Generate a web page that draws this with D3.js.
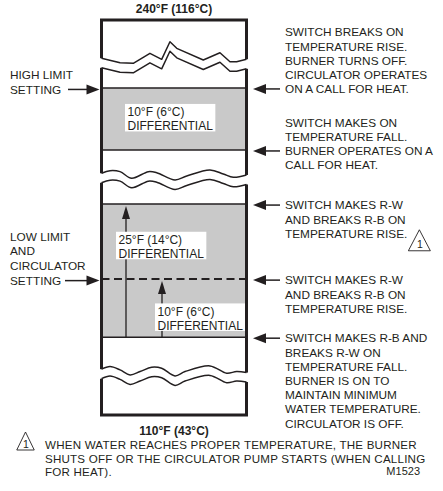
<!DOCTYPE html>
<html>
<head>
<meta charset="utf-8">
<script src="https://cdn.jsdelivr.net/npm/d3@7"></script>
<style>
  html, body { margin: 0; padding: 0; background: #fff; }
  svg { display: block; }
  .note { font-family: "Liberation Sans", Arial, sans-serif; font-size: 11.8px; fill: #231f20; }
  .diff { font-family: "Liberation Sans", Arial, sans-serif; font-size: 12px; fill: #231f20; }
  .temp { font-family: "Liberation Sans", Arial, sans-serif; font-size: 12px; font-weight: bold; fill: #231f20; }
</style>
</head>
<body>
<svg id="chart" width="443" height="491"></svg>
<script>
"use strict";


//
// Data
//

var extremeLabels = ["240°F (116°C)", "110°F (43°C)"];

// switch levels, in units of box height (0 = 110°F end, 100 = 240°F end)
var levelNames = ["high", "make", "rise", "low", "fall"];
var levelUnits = [82.8, 67.1, 53.4, 34.4, 19.7];

var grayBands = [["high", "make"], ["rise", "fall"]];

var settingLabels = [
    ["HIGH LIMIT", "SETTING"],
    ["LOW LIMIT", "AND", "CIRCULATOR", "SETTING"]
];
var settingLevels = ["high", "low"];

var noteLines = [
    ["SWITCH BREAKS ON", "TEMPERATURE RISE.", "BURNER TURNS OFF.", "CIRCULATOR OPERATES", "ON A CALL FOR HEAT."],
    ["SWITCH MAKES ON", "TEMPERATURE FALL.", "BURNER OPERATES ON A", "CALL FOR HEAT."],
    ["SWITCH MAKES R-W", "AND BREAKS R-B ON", "TEMPERATURE RISE."],
    ["SWITCH MAKES R-W", "AND BREAKS R-B ON", "TEMPERATURE RISE."],
    ["SWITCH MAKES R-B AND", "BREAKS R-W ON", "TEMPERATURE FALL.", "BURNER IS ON TO", "MAINTAIN MINIMUM", "WATER TEMPERATURE.", "CIRCULATOR IS OFF."]
];
var noteLevels = ["high", "make", "rise", "low", "fall"];
var noteAnchorLine = [4, 2, 0, 0, 0];
var noteFlag = [null, null, "1", null, null];

var differentialLabels = [
    ["10°F (6°C)", "DIFFERENTIAL"],
    ["25°F (14°C)", "DIFFERENTIAL"],
    ["10°F  (6°C)", "DIFFERENTIAL"]
];
var differentialSpans = [["high", "make"], ["rise", "fall"], ["low", "fall"]];
var differentialArrow = [false, true, true];

var footnoteFlag = "1";
var footnoteLines = [
    "WHEN WATER REACHES PROPER TEMPERATURE, THE BURNER",
    "SHUTS OFF OR THE CIRCULATOR PUMP STARTS (WHEN CALLING",
    "FOR HEAT)."
];
var figureId = "M1523";

// break lines: level (units) and profile [x fraction, dy px]
var breakUnits = [90.3, 61.2, 11.6];
var breakProfiles = [
    [[0, 0], [0.128, 4.4], [0.219, 5], [0.334, -5], [0.415, 1], [0.472, -16.6], [0.519, -10], [0.702, 1.7], [0.817, -5.6], [0.886, 3.4], [0.932, 3.4], [1, 1]],
    [[0, 0], [0.059, -2.6], [0.128, -1.6], [0.208, 5], [0.323, -1.6], [0.381, -0.6], [0.507, 6.7], [0.588, 2.7], [0.748, -3.3], [0.84, 0.7], [0.909, 4], [1, 1.7]],
    [[0, 0], [0.059, -2.6], [0.128, 0.7], [0.197, 5.7], [0.266, 2.4], [0.346, -2], [0.415, -1], [0.507, 6.7], [0.576, 2.4], [0.748, -3.3], [0.863, 4], [0.932, 2.4], [1, 3.4]]
];


//
// Layout
//

var ink = "#231f20",
    grayFill = "#c9c9c9",
    boxLeft = 101.5,
    boxRight = 246.5,
    boxTop = 20,
    boxBottom = 415,
    breakGap = 9.5,
    noteX = 285,
    noteArrowTip = 253,
    noteArrowTail = 280,
    noteLeading = 14.2,
    settingX = 10,
    settingLeading = 14.8,
    settingArrowTails = [68, 65],
    diffBoxOffsets = [[23.5, 16], [14.5, 27.7], [53.5, 24.3]],
    diffArrowOffsets = [null, 24.5, 60.5];

var svg = d3.select("#chart");

var y = d3.scaleLinear().domain([0, 100]).range([boxBottom, boxTop]);
var xf = d3.scaleLinear().domain([0, 1]).range([boxLeft, boxRight]);

function levelY(name) {
    return y(levelUnits[levelNames.indexOf(name)]);
}

function arrowHead(g, tipX, tipY, dir, len, half) {
    // dir: "left", "right", "up"
    var pts;
    if (dir === "left") {
        pts = [[tipX, tipY], [tipX + len, tipY - half], [tipX + len, tipY + half]];
    } else if (dir === "right") {
        pts = [[tipX, tipY], [tipX - len, tipY - half], [tipX - len, tipY + half]];
    } else {
        pts = [[tipX, tipY], [tipX - half, tipY + len], [tipX + half, tipY + len]];
    }
    g.append("path")
        .attr("d", "M" + pts.join("L") + "Z")
        .attr("fill", ink);
}

function flagTriangle(g, cx, baseY, w, h, label) {
    g.append("path")
        .attr("d", "M" + [[cx, baseY - h], [cx - w / 2, baseY], [cx + w / 2, baseY]].join("L") + "Z")
        .attr("fill", "none")
        .attr("stroke", ink)
        .attr("stroke-width", 0.9);
    g.append("text")
        .attr("class", "diff")
        .attr("x", cx + 0.5)
        .attr("y", baseY - 2.5)
        .attr("text-anchor", "middle")
        .style("font-size", "10.5px")
        .text(label);
}


//
// Gray bands and level lines
//

svg.selectAll("rect.band")
    .data(grayBands)
    .enter().append("rect")
    .attr("class", "band")
    .attr("x", boxLeft)
    .attr("width", boxRight - boxLeft)
    .attr("y", function (d) { return levelY(d[0]); })
    .attr("height", function (d) { return levelY(d[1]) - levelY(d[0]); })
    .attr("fill", grayFill);

var solidLevels = ["high", "make", "rise", "fall"];

svg.selectAll("line.level")
    .data(solidLevels)
    .enter().append("line")
    .attr("class", "level")
    .attr("x1", boxLeft).attr("x2", boxRight)
    .attr("y1", function (d) { return levelY(d); })
    .attr("y2", function (d) { return levelY(d); })
    .attr("stroke", ink)
    .attr("stroke-width", 1.6);

svg.append("line")
    .attr("x1", boxLeft).attr("x2", boxRight)
    .attr("y1", levelY("low")).attr("y2", levelY("low"))
    .attr("stroke", ink)
    .attr("stroke-width", 2)
    .attr("stroke-dasharray", "8,4.5");


//
// Differential arrows and labels
//

differentialLabels.forEach(function (lines, i) {

    var topY = levelY(differentialSpans[i][0]),
        bottomY = levelY(differentialSpans[i][1]);

    if (differentialArrow[i]) {
        var ax = boxLeft + diffArrowOffsets[i];
        svg.append("line")
            .attr("x1", ax).attr("x2", ax)
            .attr("y1", bottomY).attr("y2", topY + 8)
            .attr("stroke", ink)
            .attr("stroke-width", 1.3);
        arrowHead(svg, ax, topY + 2, "up", 13, 4);
    }

    var g = svg.append("g")
        .attr("transform", "translate(" + (boxLeft + diffBoxOffsets[i][0]) + "," + (topY + diffBoxOffsets[i][1]) + ")");

    var bg = g.append("rect").attr("fill", "#fff");

    var t = g.selectAll("text")
        .data(lines)
        .enter().append("text")
        .attr("class", "diff")
        .attr("x", 2.5)
        .attr("y", function (d, j) { return 12.5 + j * 13.7; })
        .text(function (d) { return d; });

    var w = d3.max(t.nodes(), function (n) { return n.getComputedTextLength(); });
    bg.attr("width", w + 5).attr("height", 27.5);
});


//
// Box outline with breaks
//

var lineGen = d3.line().curve(d3.curveCatmullRom.alpha(0.5));

function waveY(b, frac, shift) {
    var prof = breakProfiles[b];
    var p = frac === 0 ? prof[0] : prof[prof.length - 1];
    return y(breakUnits[b]) + p[1] + shift;
}

breakProfiles.forEach(function (prof, b) {
    [0, breakGap].forEach(function (shift) {
        svg.append("path")
            .attr("d", (b === 0 ? d3.line() : lineGen)(prof.map(function (p) {
                return [xf(p[0]), y(breakUnits[b]) + p[1] + shift];
            })))
            .attr("fill", "none")
            .attr("stroke", ink)
            .attr("stroke-width", 1.5)
            .attr("stroke-linejoin", "round");
    });
});

// side segments between breaks
var topFrame = [[boxLeft, waveY(0, 0, 0)], [boxLeft, boxTop], [boxRight, boxTop], [boxRight, waveY(0, 1, 0)]];
var bottomFrame = [[boxLeft, waveY(2, 0, breakGap)], [boxLeft, boxBottom], [boxRight, boxBottom], [boxRight, waveY(2, 1, breakGap)]];

[topFrame, bottomFrame].forEach(function (pts) {
    svg.append("path")
        .attr("d", d3.line()(pts))
        .attr("fill", "none")
        .attr("stroke", ink)
        .attr("stroke-width", 3);
});

[0, 1].forEach(function (b) {
    [0, 1].forEach(function (side) {
        svg.append("line")
            .attr("x1", xf(side)).attr("x2", xf(side))
            .attr("y1", waveY(b, side, breakGap))
            .attr("y2", waveY(b + 1, side, 0))
            .attr("stroke", ink)
            .attr("stroke-width", 3);
    });
});


//
// End temperatures
//

svg.append("text")
    .attr("class", "temp")
    .attr("x", xf(0.5)).attr("y", boxTop - 7)
    .attr("text-anchor", "middle")
    .text(extremeLabels[0]);

svg.append("text")
    .attr("class", "temp")
    .attr("x", xf(0.5)).attr("y", boxBottom + 20)
    .attr("text-anchor", "middle")
    .text(extremeLabels[1]);


//
// Setting labels (left)
//

settingLabels.forEach(function (lines, i) {

    var ly = levelY(settingLevels[i]) + 1.5,
        last = lines.length - 1;

    svg.selectAll(null)
        .data(lines)
        .enter().append("text")
        .attr("class", "note")
        .attr("x", settingX)
        .attr("y", function (d, j) { return ly + (j - last) * settingLeading + 4.3; })
        .text(function (d) { return d; });

    svg.append("line")
        .attr("x1", settingArrowTails[i]).attr("x2", boxLeft - 10)
        .attr("y1", ly).attr("y2", ly)
        .attr("stroke", ink)
        .attr("stroke-width", 1.5);
    arrowHead(svg, boxLeft - 2, ly, "right", 13, 5);
});


//
// Switch notes (right)
//

noteLines.forEach(function (lines, i) {

    var ly = levelY(noteLevels[i]) + 1,
        anchor = noteAnchorLine[i];

    var t = svg.selectAll(null)
        .data(lines)
        .enter().append("text")
        .attr("class", "note")
        .attr("x", noteX)
        .attr("y", function (d, j) { return ly + (j - anchor) * noteLeading + 4.3; })
        .text(function (d) { return d; });

    svg.append("line")
        .attr("x1", noteArrowTip + 8).attr("x2", noteArrowTail)
        .attr("y1", ly).attr("y2", ly)
        .attr("stroke", ink)
        .attr("stroke-width", 1.5);
    arrowHead(svg, noteArrowTip, ly, "left", 13, 5);

    if (noteFlag[i]) {
        var lastNode = t.nodes()[lines.length - 1];
        var endX = noteX + lastNode.getComputedTextLength();
        var baseY = ly + (lines.length - 1 - anchor) * noteLeading + 4.3;
        flagTriangle(svg, endX + 12, baseY + 13, 22, 21, noteFlag[i]);
    }
});


//
// Footnote
//

flagTriangle(svg, 25.5, 450, 17.5, 18, footnoteFlag);

svg.selectAll(null)
    .data(footnoteLines)
    .enter().append("text")
    .attr("class", "note")
    .attr("x", 45)
    .attr("y", function (d, j) { return 449 + j * 13.5; })
    .style("font-size", "11.6px")
    .style("letter-spacing", "0.2px")
    .text(function (d) { return d; });

svg.append("text")
    .attr("class", "diff")
    .attr("x", 420)
    .attr("y", 475)
    .attr("text-anchor", "end")
    .style("font-size", "11px")
    .text(figureId);
</script>
</body>
</html>
